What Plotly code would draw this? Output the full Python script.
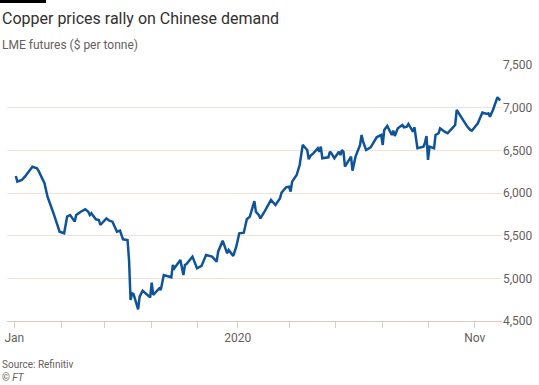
import plotly.graph_objects as go

dates = ["2020-01-02","2020-01-03","2020-01-06","2020-01-08","2020-01-13","2020-01-16","2020-01-17","2020-01-21","2020-01-22","2020-01-23",
"2020-01-27","2020-01-29","2020-01-31","2020-02-03","2020-02-05","2020-02-07","2020-02-10","2020-02-11","2020-02-14","2020-02-17",
"2020-02-19","2020-02-20","2020-02-21","2020-02-24","2020-02-26","2020-02-27","2020-03-02","2020-03-04","2020-03-06","2020-03-09",
"2020-03-11","2020-03-13","2020-03-16","2020-03-17","2020-03-18","2020-03-19","2020-03-20","2020-03-23","2020-03-24","2020-03-26",
"2020-03-30","2020-03-31","2020-04-01","2020-04-02","2020-04-06","2020-04-07","2020-04-09","2020-04-14","2020-04-15","2020-04-16",
"2020-04-20","2020-04-22","2020-04-23","2020-04-24","2020-04-28","2020-05-01","2020-05-04","2020-05-07","2020-05-11","2020-05-14",
"2020-05-15","2020-05-18","2020-05-21","2020-05-22","2020-05-25","2020-05-27","2020-05-29","2020-06-01","2020-06-03","2020-06-05",
"2020-06-08","2020-06-09","2020-06-11","2020-06-12","2020-06-15","2020-06-18","2020-06-19","2020-06-22","2020-06-25","2020-06-26",
"2020-06-29","2020-07-01","2020-07-02","2020-07-03","2020-07-06","2020-07-08","2020-07-10","2020-07-13","2020-07-14","2020-07-15",
"2020-07-17","2020-07-20","2020-07-21","2020-07-22","2020-07-23","2020-07-27","2020-07-28","2020-07-29","2020-07-31","2020-08-03",
"2020-08-04","2020-08-05","2020-08-06","2020-08-07","2020-08-10","2020-08-11","2020-08-12","2020-08-14","2020-08-17","2020-08-18",
"2020-08-19","2020-08-21","2020-08-24","2020-08-26","2020-08-28","2020-08-31","2020-09-01","2020-09-02","2020-09-04","2020-09-07",
"2020-09-08","2020-09-09","2020-09-11","2020-09-14","2020-09-15","2020-09-17","2020-09-18","2020-09-21","2020-09-22","2020-09-24",
"2020-09-28","2020-09-29","2020-09-30","2020-10-01","2020-10-02","2020-10-05","2020-10-06","2020-10-08","2020-10-09","2020-10-12",
"2020-10-14","2020-10-16","2020-10-19","2020-10-20","2020-10-22","2020-10-26","2020-10-27","2020-10-29","2020-10-30","2020-11-03",
"2020-11-04","2020-11-06","2020-11-09","2020-11-10","2020-11-11","2020-11-13","2020-11-16","2020-11-17","2020-11-18"]

prices = [6199,6133,6152,6191,6308,6290,6262,6114,6035,5957,
5760,5664,5547,5528,5723,5742,5664,5742,5781,5809,
5781,5742,5762,5692,5684,5625,5703,5676,5664,5547,
5559,5457,5449,5215,4746,4824,4816,4637,4785,4855,
4793,4777,4949,4805,4883,4863,5039,5012,5156,5117,
5215,5039,5156,5168,5254,5117,5145,5273,5254,5195,
5312,5441,5293,5332,5262,5371,5528,5535,5692,5723,
5905,5781,5740,5703,5790,5879,5918,5859,5938,6004,
6067,6074,6016,6133,6211,6328,6563,6504,6395,6434,
6465,6524,6484,6543,6407,6418,6484,6465,6407,6484,
6445,6504,6484,6308,6395,6426,6262,6426,6563,6680,
6602,6504,6535,6602,6653,6680,6563,6739,6786,6680,
6730,6668,6758,6797,6770,6778,6809,6719,6770,6524,
6543,6590,6668,6387,6543,6524,6680,6700,6758,6719,
6700,6739,6797,6973,6914,6797,6778,6739,6730,6817,
6856,6942,6926,6934,6895,6973,7122,7098,7090]

x_tickvals = ["2020-01-01","2020-02-01","2020-03-01","2020-04-01","2020-05-01","2020-05-28",
              "2020-07-01","2020-08-01","2020-09-01","2020-10-01","2020-11-01"]
x_ticktext = ["Jan","","","","","2020","","","","","Nov"]
y_tickvals = [4500,5000,5500,6000,6500,7000,7500]

W, H = 539, 385
L, R, T, B = 7, 37, 65, 64
pw, ph = W - L - R, H - T - B

def px(x):
    return (x - L) / pw

def py(y):
    return (H - B - y) / ph

FONT = "Roboto"
GREY = "#66605c"

fig = go.Figure()
fig.add_trace(go.Scatter(x=dates, y=prices, mode="lines",
                         line=dict(color="#0f5499", width=2.5), hoverinfo="skip"))

fig.update_layout(
    width=W, height=H,
    margin=dict(l=L, r=R, t=T, b=B, autoexpand=False),
    paper_bgcolor="white", plot_bgcolor="white",
    showlegend=False,
    font=dict(family=FONT, color=GREY, size=12),
    xaxis=dict(type="date", range=["2019-12-27 04:00", "2020-11-19 00:00"],
               tickvals=x_tickvals, ticktext=x_ticktext,
               showgrid=False, zeroline=False,
               showline=True, linecolor="#d9cdc3", linewidth=1,
               ticks="outside", ticklen=6, tickcolor="#d9cdc3", tickwidth=1,
               tickfont=dict(size=12, color=GREY)),
    yaxis=dict(range=[4500, 7500], side="right", tickvals=y_tickvals,
               tickformat=",", showgrid=True, gridcolor="#efe3d9", gridwidth=1,
               zeroline=False, showline=False, ticks="",
               tickfont=dict(size=12, color=GREY)),
)

fig.add_shape(type="rect", xref="paper", yref="paper",
              x0=px(0), x1=px(46), y0=py(3), y1=py(0),
              fillcolor="black", line=dict(width=0))

fig.add_annotation(text="Copper prices rally on Chinese demand", xref="paper", yref="paper",
                   x=px(0), y=py(7), xanchor="left", yanchor="top", showarrow=False,
                   font=dict(family=FONT, size=16, color="#33302e"))
fig.add_annotation(text="LME futures ($ per tonne)", xref="paper", yref="paper",
                   x=px(0), y=py(36), xanchor="left", yanchor="top", showarrow=False,
                   font=dict(family=FONT, size=12, color=GREY))
fig.add_annotation(text="Source: Refinitiv", xref="paper", yref="paper",
                   x=px(0), y=py(357), xanchor="left", yanchor="top", showarrow=False,
                   font=dict(family=FONT, size=10, color=GREY))
fig.add_annotation(text="© <i>FT</i>", xref="paper", yref="paper",
                   x=px(0), y=py(370), xanchor="left", yanchor="top", showarrow=False,
                   font=dict(family=FONT, size=10, color=GREY))

fig.write_html("out.html", config={"displayModeBar": False},
               post_script="document.body.style.margin='0';document.body.style.padding='0';")
